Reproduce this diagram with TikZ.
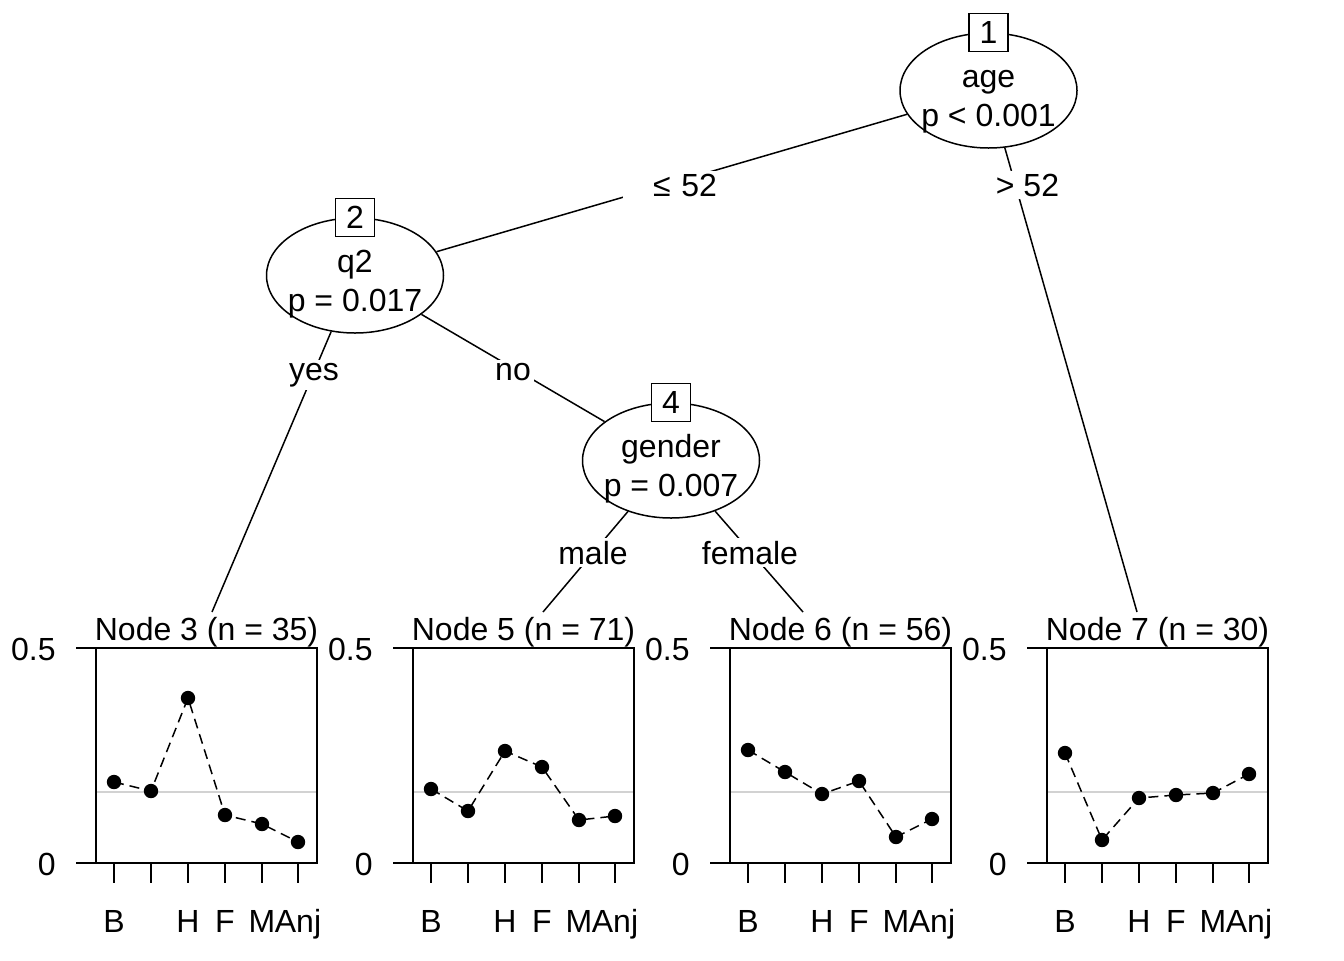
\documentclass[tikz,border=0pt]{standalone}
\usepackage{fontspec}
\setmainfont{Liberation Sans}
\usetikzlibrary{shapes.geometric}

\begin{document}
\begin{tikzpicture}[x=0.5pt,y=-0.5pt,font=\fontsize{16}{19.5}\selectfont,
    inner/.style={ellipse,draw,line width=0.75pt,fill=white,minimum width=88.5pt,minimum height=57.5pt,inner xsep=-4pt,inner ysep=-2pt,align=center},
    idbox/.style={draw,line width=0.75pt,fill=white,minimum width=19.5pt,minimum height=19pt,inner sep=0pt},
    edgelab/.style={fill=white,inner sep=1.5pt,anchor=base},
    ylab/.style={anchor=base east,inner sep=0pt},
    frame/.style={line width=1pt},
    refline/.style={gray!35,line width=0.75pt},
    means/.style={line width=0.75pt,dash pattern=on 5pt off 3pt}]
            \useasboundingbox (0,0) rectangle (1344,960);
            % inner nodes
            \node[inner] (n1) at (988.5,90.5) {\rule{0pt}{20pt}age\\p < 0.001};
            \node[idbox] (id1) at (n1.north) {1};
            \node[inner] (n2) at (355,275.5) {\rule{0pt}{20pt}q2\\p = 0.017};
            \node[idbox] (id2) at (n2.north) {2};
            \node[inner] (n4) at (671,460.5) {\rule{0pt}{20pt}gender\\p = 0.007};
            \node[idbox] (id4) at (n4.north) {4};
            \coordinate (t3) at (212,612);
            \coordinate (t5) at (543,612);
            \coordinate (t6) at (803,612);
            \coordinate (t7) at (1137,612);
            % edges
            \draw[line width=0.75pt] (n1) -- (n2);
            \draw[line width=0.75pt] (n1) -- (t7);
            \draw[line width=0.75pt] (n2) -- (t3);
            \draw[line width=0.75pt] (n2) -- (n4);
            \draw[line width=0.75pt] (n4) -- (t5);
            \draw[line width=0.75pt] (n4) -- (t6);
            \node[edgelab,text width=45.5pt,align=right] (e12) at (671.5,196) {≤ 52};
            \node[edgelab] (e17) at (1027.5,196) {> 52};
            \node[edgelab] (e23) at (314,380) {yes};
            \node[edgelab] (e24) at (513,380) {no};
            \node[edgelab] (e45) at (593,564) {male};
            \node[edgelab] (e46) at (750,564) {female};
            % node 3
            \begin{scope}
                \draw[refline] (96,792) -- (317,792);
                \draw[frame] (96,648) rectangle (317,863);
                \draw[frame] (76,648) -- (96,648) (76,863) -- (96,863);
                \node[ylab] at (56,660) {0.5};
                \node[ylab] at (56,875) {0};
                \foreach \x in {114,151,188,225,262,298} \draw[frame] (\x,863) -- (\x,883);
                \foreach \x/\t in {114/B,188/H,225/F,262/M,298/Anj} \node[anchor=base] at (\x,932) {\t};
                \node[anchor=base] (n3) at (206.5,640) {Node 3 (n = 35)};
                \draw[means] (114,782) -- (151,791) -- (188,698) -- (225,815) -- (262,824) -- (298,842);
                \foreach \p in {(114,782),(151,791),(188,698),(225,815),(262,824),(298,842)} \fill \p circle (3.6pt);
            \end{scope}
            % node 5
            \begin{scope}[shift={(317,0)}]
                \draw[refline] (96,792) -- (317,792);
                \draw[frame] (96,648) rectangle (317,863);
                \draw[frame] (76,648) -- (96,648) (76,863) -- (96,863);
                \node[ylab] at (56,660) {0.5};
                \node[ylab] at (56,875) {0};
                \foreach \x in {114,151,188,225,262,298} \draw[frame] (\x,863) -- (\x,883);
                \foreach \x/\t in {114/B,188/H,225/F,262/M,298/Anj} \node[anchor=base] at (\x,932) {\t};
                \node[anchor=base] (n5) at (206.5,640) {Node 5 (n = 71)};
                \draw[means] (114,789) -- (151,811) -- (188,751) -- (225,767) -- (262,820) -- (298,816);
                \foreach \p in {(114,789),(151,811),(188,751),(225,767),(262,820),(298,816)} \fill \p circle (3.6pt);
            \end{scope}
            % node 6
            \begin{scope}[shift={(634,0)}]
                \draw[refline] (96,792) -- (317,792);
                \draw[frame] (96,648) rectangle (317,863);
                \draw[frame] (76,648) -- (96,648) (76,863) -- (96,863);
                \node[ylab] at (56,660) {0.5};
                \node[ylab] at (56,875) {0};
                \foreach \x in {114,151,188,225,262,298} \draw[frame] (\x,863) -- (\x,883);
                \foreach \x/\t in {114/B,188/H,225/F,262/M,298/Anj} \node[anchor=base] at (\x,932) {\t};
                \node[anchor=base] (n6) at (206.5,640) {Node 6 (n = 56)};
                \draw[means] (114,750) -- (151,772) -- (188,794) -- (225,781) -- (262,837) -- (298,819);
                \foreach \p in {(114,750),(151,772),(188,794),(225,781),(262,837),(298,819)} \fill \p circle (3.6pt);
            \end{scope}
            % node 7
            \begin{scope}[shift={(951,0)}]
                \draw[refline] (96,792) -- (317,792);
                \draw[frame] (96,648) rectangle (317,863);
                \draw[frame] (76,648) -- (96,648) (76,863) -- (96,863);
                \node[ylab] at (56,660) {0.5};
                \node[ylab] at (56,875) {0};
                \foreach \x in {114,151,188,225,262,298} \draw[frame] (\x,863) -- (\x,883);
                \foreach \x/\t in {114/B,188/H,225/F,262/M,298/Anj} \node[anchor=base] at (\x,932) {\t};
                \node[anchor=base] (n7) at (206.5,640) {Node 7 (n = 30)};
                \draw[means] (114,753) -- (151,840) -- (188,798) -- (225,795) -- (262,793) -- (298,774);
                \foreach \p in {(114,753),(151,840),(188,798),(225,795),(262,793),(298,774)} \fill \p circle (3.6pt);
            \end{scope}
        \end{tikzpicture}
\end{document}
